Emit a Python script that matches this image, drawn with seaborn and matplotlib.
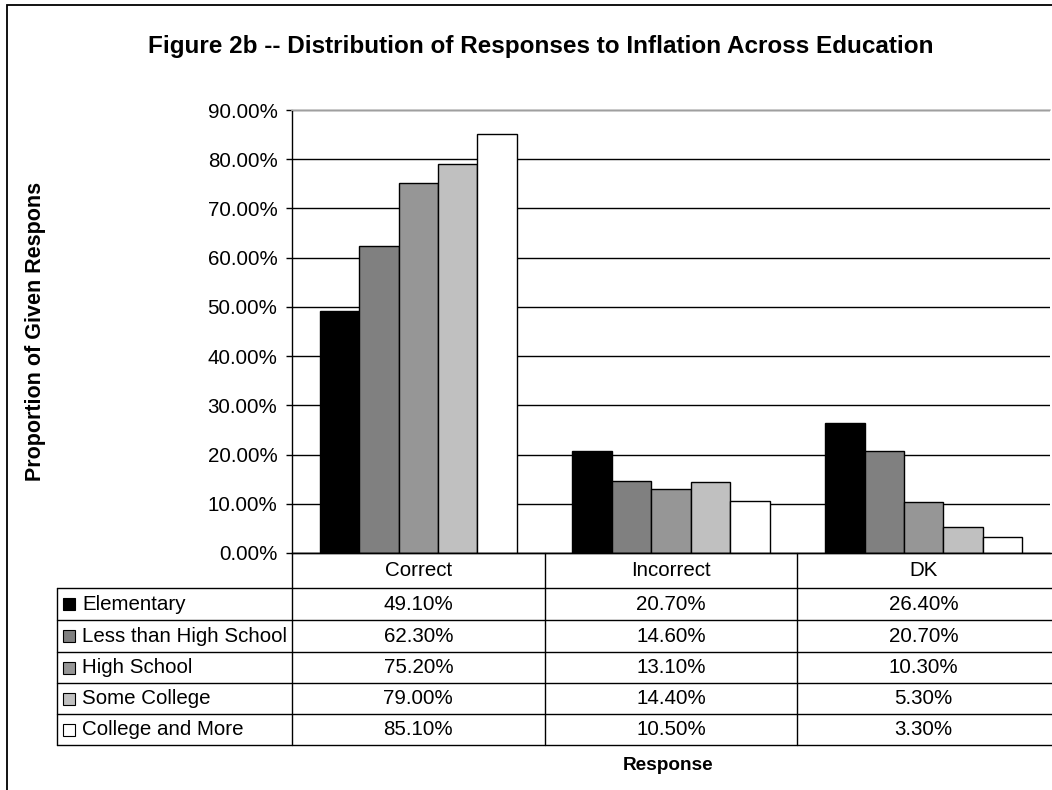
import numpy as np
import pandas as pd
import seaborn as sns
import matplotlib.pyplot as plt
from matplotlib.patches import Rectangle
from matplotlib.transforms import Bbox, TransformedBbox, blended_transform_factory

# --- data ---
responses = ['Correct', 'Incorrect', 'DK']
education = ['Elementary', 'Less than High School', 'High School',
             'Some College', 'College and More']
elementary = [49.1, 20.7, 26.4]
less_than_hs = [62.3, 14.6, 20.7]
high_school = [75.2, 13.1, 10.3]
some_college = [79.0, 14.4, 5.3]
college_more = [85.1, 10.5, 3.3]
colors = ['#000000', '#808080', '#969696', '#c0c0c0', '#ffffff']
yticks = [0, 10, 20, 30, 40, 50, 60, 70, 80, 90]

series = [elementary, less_than_hs, high_school, some_college, college_more]
df = pd.DataFrame({
    'Response': responses * len(education),
    'Education': np.repeat(education, len(responses)),
    'Share': np.concatenate(series) / 100,
})

sns.set_theme(style='white')
plt.rcParams['font.family'] = ['Liberation Sans', 'DejaVu Sans']
plt.rcParams['text.color'] = 'black'
plt.rcParams['ytick.color'] = 'black'
plt.rcParams['ytick.labelcolor'] = 'black'

W, H = 1052, 790
fig = plt.figure(figsize=(W / 100, H / 100), dpi=100)
FS = 14.8


def fx(px):
    return px / W


def fy(py):
    return 1 - py / H


# outer chart border (only left and top visible in the crop)
fig.add_artist(Rectangle((fx(7), -0.1), 1.2, fy(5) + 0.1, transform=fig.transFigure,
                         fill=False, edgecolor='black', lw=1.3))

ax = fig.add_axes([fx(292), fy(553), fx(1050) - fx(292), fy(110) - fy(553)])
sns.barplot(data=df, x='Response', y='Share', hue='Education', order=responses,
            hue_order=education, palette=colors, saturation=1, width=0.78,
            edgecolor='black', linewidth=1, legend=False, ax=ax)

ax.set_xlim(-0.5, 2.5)
ax.set_ylim(0, 0.9)
ax.set_yticks(np.array(yticks) / 100)
ax.set_yticklabels([f'{t:.2f}%' for t in yticks])
ax.set_xticks([])
ax.set_xlabel('')
ax.set_ylabel('')
ax.yaxis.grid(True, color='black', lw=1)
ax.set_axisbelow(True)
ax.tick_params(axis='y', direction='out', length=4.5, width=1, color='black',
               pad=6, labelsize=FS, left=True)
for side in ['left', 'bottom']:
    ax.spines[side].set_color('black')
    ax.spines[side].set_linewidth(1)
ax.spines['right'].set_visible(False)
ax.spines['top'].set_color('#c0c0c0')
ax.spines['top'].set_linewidth(1.2)

# --- data table below the axis ---
trans = blended_transform_factory(ax.transData, fig.transFigure)
x_left = -0.5 - (292 - 57) / ((1050 - 292) / 3)
x_right = 2.52
row_lines = [588, 620, 652, 683, 714, 745]


def hline(py, x0, x1):
    ax.plot([x0, x1], [fy(py), fy(py)], color='black', lw=1, transform=trans, clip_on=False)


def vline(x, py0, py1):
    ax.plot([x, x], [fy(py0), fy(py1)], color='black', lw=1, transform=trans, clip_on=False)


hline(553, -0.5, x_right)
for py in row_lines:
    hline(py, x_left, x_right)
vline(x_left, 588, 745)
for x in [-0.5, 0.5, 1.5]:
    vline(x, 553, 745)

for i, r in enumerate(responses):
    ax.text(i, fy(571), r, transform=trans, ha='center', va='center', fontsize=FS)

for j, (name, vals, col) in enumerate(zip(education, series, colors)):
    top, bot = row_lines[j], row_lines[j + 1]
    yc = (top + bot) / 2
    fig.add_artist(Rectangle((fx(63), fy(yc + 6)), fx(12), 12 / H, transform=fig.transFigure,
                             facecolor=col, edgecolor='black', lw=0.8))
    fig.text(fx(82), fy(yc), name, ha='left', va='center', fontsize=FS)
    for i, v in enumerate(vals):
        ax.text(i, fy(yc), f'{v:.2f}%', transform=trans, ha='center', va='center', fontsize=FS)

# --- titles ---
fig.text(fx(541), fy(46), 'Figure 2b -- Distribution of Responses to Inflation Across Education',
         ha='center', va='center', fontsize=17.5, fontweight='bold')
fig.text(fx(668), fy(765), 'Response', ha='center', va='center', fontsize=13.7, fontweight='bold')
ylab = fig.text(fx(36), fy(325), 'Proportion of Given Response', rotation=90,
                ha='center', va='center', fontsize=15.5, fontweight='bold')
ylab.set_clip_box(TransformedBbox(Bbox([[0, 0], [1, fy(182)]]), fig.transFigure))
ylab.set_clip_on(True)

fig.savefig('out.png', dpi=100)
